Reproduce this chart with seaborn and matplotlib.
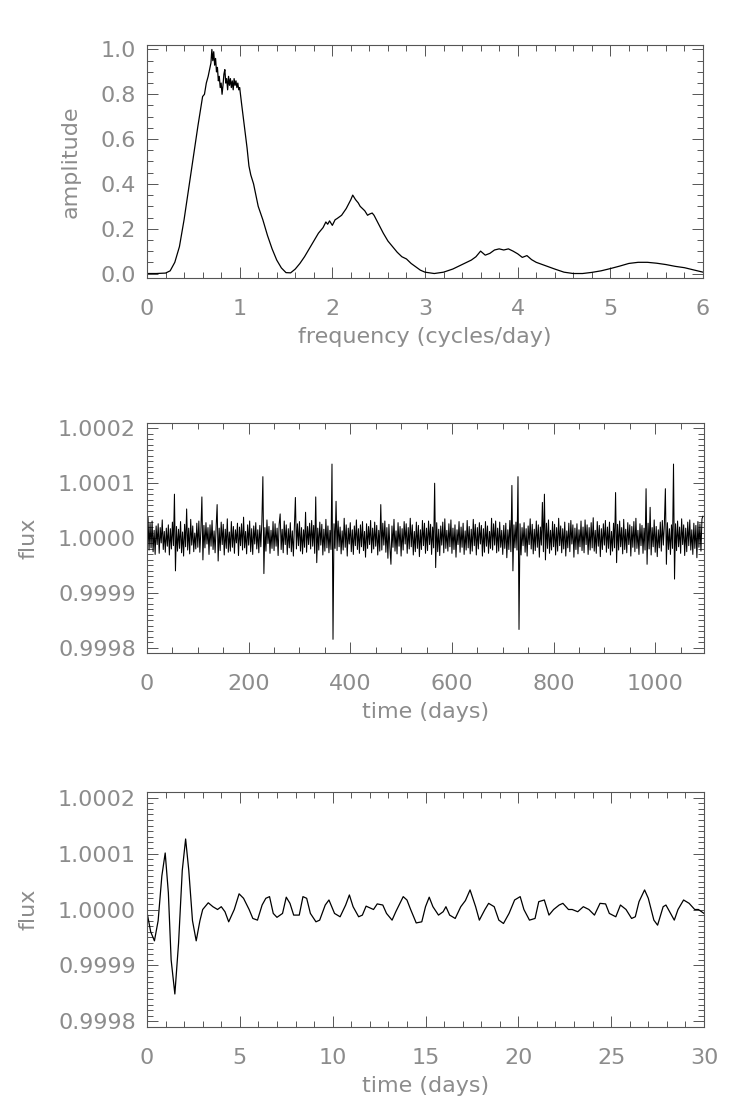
import numpy as np
import pandas as pd
import matplotlib
matplotlib.use("Agg")
import matplotlib.pyplot as plt
import seaborn as sns
from matplotlib.ticker import MultipleLocator, FormatStrFormatter

# --- amplitude spectrum (top panel) ---
freq = [0.0, 0.1, 0.2, 0.25, 0.3, 0.35, 0.4, 0.45, 0.5, 0.55, 0.6, 0.62, 0.64,
        0.66, 0.68, 0.69, 0.7, 0.71, 0.72, 0.73, 0.74, 0.75, 0.76, 0.77, 0.78,
        0.79, 0.8, 0.81, 0.82, 0.83, 0.84, 0.85, 0.86, 0.87, 0.88, 0.89, 0.9,
        0.91, 0.92, 0.93, 0.94, 0.95, 0.96, 0.97, 0.98, 0.99, 1.0, 1.02, 1.05,
        1.08, 1.1, 1.12, 1.15, 1.2, 1.25, 1.3, 1.35, 1.4, 1.45, 1.5, 1.55, 1.6,
        1.65, 1.7, 1.75, 1.8, 1.85, 1.9, 1.93, 1.95, 1.97, 2.0, 2.03, 2.05, 2.1,
        2.15, 2.2, 2.22, 2.25, 2.28, 2.3, 2.35, 2.38, 2.4, 2.43, 2.45, 2.5, 2.55,
        2.6, 2.65, 2.7, 2.75, 2.8, 2.85, 2.9, 2.95, 3.0, 3.1, 3.2, 3.3, 3.4,
        3.5, 3.55, 3.6, 3.65, 3.7, 3.75, 3.8, 3.85, 3.9, 3.95, 4.0, 4.05, 4.1,
        4.15, 4.2, 4.3, 4.4, 4.5, 4.6, 4.7, 4.8, 4.9, 5.0, 5.1, 5.2, 5.3, 5.4,
        5.5, 5.6, 5.7, 5.8, 5.9, 6.0]
amp = [0.0, 0.0, 0.002, 0.012, 0.05, 0.12, 0.24, 0.38, 0.52, 0.66, 0.79, 0.8,
       0.85, 0.88, 0.92, 0.94, 1.0, 0.95, 0.99, 0.93, 0.96, 0.9, 0.92, 0.86,
       0.88, 0.83, 0.85, 0.8, 0.84, 0.89, 0.91, 0.85, 0.87, 0.82, 0.88, 0.84,
       0.87, 0.83, 0.86, 0.82, 0.87, 0.84, 0.86, 0.83, 0.85, 0.82, 0.83, 0.76,
       0.66, 0.56, 0.48, 0.44, 0.4, 0.3, 0.24, 0.17, 0.11, 0.06, 0.025, 0.004,
       0.003, 0.02, 0.045, 0.075, 0.11, 0.145, 0.18, 0.205, 0.23, 0.22, 0.235,
       0.215, 0.24, 0.245, 0.26, 0.29, 0.33, 0.35, 0.33, 0.315, 0.3, 0.28,
       0.26, 0.265, 0.27, 0.26, 0.22, 0.18, 0.145, 0.12, 0.095, 0.075, 0.065,
       0.045, 0.03, 0.015, 0.006, 0.0, 0.006, 0.02, 0.04, 0.06, 0.075, 0.1,
       0.082, 0.09, 0.105, 0.11, 0.105, 0.11, 0.1, 0.088, 0.072, 0.08, 0.062,
       0.05, 0.035, 0.02, 0.006, 0.0, 0.0, 0.005, 0.012, 0.022, 0.033, 0.045,
       0.05, 0.05, 0.046, 0.04, 0.032, 0.026, 0.016, 0.006]

# --- three-year light curve (middle panel), deviations in ppm, one value per 2 days ---
step_days = 2
flux_ppm = [
    -55, 38, -22, 27, -18, 31, -25, 14, -30, 22,
    -12, 26, -28, 19, -9, 33, -21, 12, -26, 18,
    -15, 24, -31, 17, -20, 29, -14, 80, -60, 21,
    -24, 16, -19, 30, -27, 11, -33, 25, -16, 53,
    -22, 18, -29, 34, -13, 22, -25, 9, -20, 27,
    -17, 31, -26, 14, 75, -40, 23, -18, 28, -11,
    19, -30, 24, -15, 32, -21, 13, -27, 20, 61,
    -42, 18, -23, 29, -12, 25, -31, 16, -19, 35,
    -26, 11, -24, 30, -17, 21, -28, 15, -9, 27,
    -32, 20, -14, 26, -22, 38, -18, 12, -29, 24,
    -13, 31, -25, 17, -30, 22, -11, 28, -20, 15,
    -27, 23, -16, 29, 112, -65, 19, -24, 33, -10,
    21, -28, 14, -19, 30, -23, 26, -15, 18, -32,
    25, 44, -21, 16, -27, 31, -12, 24, -30, 17,
    -18, 28, -25, 13, -33, 22, 74, -20, 26, -14,
    30, -24, 19, -29, 15, -17, 47, -26, 21, -12,
    27, -20, 32, -15, 23, -28, 75, -45, 18, -22,
    29, -13, 25, -31, 16, -24, 34, -18, 22, -27,
    14, -21, 135, -185, 26, -19, 67, -23, 31, -16,
    20, -29, 13, -22, 36, -17, 24, -33, 18, -11,
    28, -25, 15, -30, 22, -14, 33, -21, 17, -28,
    24, -16, 30, -23, 12, -35, 26, -19, 21, -12,
    32, -27, 18, -20, 29, -15, 23, -31, 14, -24,
    61, -22, 27, -13, 31, -26, 19, -37, 25, -18,
    -48, 22, -17, 34, -24, 13, -29, 28, -15, 21,
    -33, 17, -22, 30, -11, 26, -28, 19, -20, 36,
    -16, 24, -31, 12, -25, 29, -19, 23, -34, 15,
    -21, 32, -14, 27, -28, 18, -23, 31, -12, 25,
    -30, 20, -18, 100, -54, 28, -25, 16, -32, 22,
    -13, 29, -27, 35, -19, 14, -24, 26, -16, 33,
    -28, 18, -21, 24, -35, 15, -12, 30, -26, 20,
    -17, 27, -30, 13, -22, 32, -18, 21, -29, 16,
    -24, 34, -14, 25, -31, 19, -20, 28, -11, 23,
    -33, 17, -26, 30, -15, 22, -28, 12, -19, 36,
    -22, 26, -13, 31, -27, 18, -24, 29, -17, 14,
    -30, 23, -19, 27, -36, 15, -21, 32, -25, 96,
    -60, 24, -18, 29, -22, 112, -167, 26, -31, 19,
    -14, 28, -26, 17, -33, 22, -12, 35, -20, 25,
    -29, 16, -23, 31, -17, 24, -35, 20, -13, 65,
    -25, 80, -40, 27, -19, 33, -28, 14, -22, 30,
    -16, 25, -31, 19, -24, 36, -14, 22, -27, 17,
    -20, 29, -33, 13, -18, 27, -25, 32, -11, 24,
    -35, 18, -21, 26, -29, 15, -16, 31, -23, 20,
    -27, 33, -12, 24, -30, 19, -22, 28, -18, 37,
    -24, 14, -28, 30, -15, 23, -34, 17, -21, 26,
    -13, 32, -26, 20, -19, 29, -31, 12, -24, 27,
    -18, 83, -45, 25, -22, 31, -16, 19, -29, 34,
    -21, 16, -27, 28, -12, 24, -33, 21, -17, 30,
    -25, 36, -19, 14, -30, 26, -14, 23, -28, 18,
    -22, 90, -48, 27, -20, 56, -31, 19, -16, 33,
    -26, 21, -34, 15, -18, 29, -24, 32, -13, 25,
    90, -48, 28, -21, 17, -30, 24, -19, 135, -75,
    26, -23, 31, -16, 20, -28, 35, -12, 24, -32,
    18, -25, 29, -14, 33, -22, 15, -30, 27, -19,
    23, -36, 30, -17, 26, -24, 35, 40,
]

# --- first 30 days (bottom panel) ---
t30 = [0.0, 0.2, 0.4, 0.6, 0.8, 0.98, 1.15, 1.3, 1.5, 1.7, 1.9, 2.08, 2.25,
       2.45, 2.65, 2.85, 3.0, 3.3, 3.55, 3.8, 4.0, 4.2, 4.4, 4.7, 4.96, 5.2,
       5.5, 5.7, 5.95, 6.2, 6.4, 6.6, 6.8, 7.0, 7.3, 7.5, 7.7, 7.9, 8.2, 8.4,
       8.6, 8.8, 9.1, 9.3, 9.6, 9.8, 10.1, 10.4, 10.7, 10.9, 11.1, 11.4, 11.6,
       11.8, 12.2, 12.4, 12.7, 12.9, 13.2, 13.4, 13.8, 14.0, 14.2, 14.5, 14.8,
       15.0, 15.2, 15.4, 15.7, 15.95, 16.1, 16.3, 16.6, 16.9, 17.15, 17.4,
       17.7, 17.9, 18.2, 18.4, 18.7, 18.95, 19.2, 19.5, 19.8, 20.1, 20.3,
       20.6, 20.9, 21.1, 21.4, 21.65, 21.9, 22.2, 22.4, 22.7, 22.9, 23.2,
       23.5, 23.8, 24.1, 24.4, 24.7, 24.9, 25.25, 25.5, 25.8, 26.1, 26.3,
       26.5, 26.8, 27.0, 27.3, 27.5, 27.8, 27.95, 28.2, 28.4, 28.6, 28.9,
       29.2, 29.5, 29.7, 30.0]
f30_ppm = [-5, -40, -56, -20, 60, 101, 30, -90, -151, -60, 70, 126, 70, -20,
           -56, -20, 0, 12, 5, 0, 5, -4, -22, 0, 28, 20, 0, -16, -19, 8, 20,
           23, -7, -14, -7, 22, 11, -10, -10, 23, 20, -7, -22, -19, 8, 17, -7,
           -13, 8, 26, 5, -13, -10, 6, 0, 10, 8, -7, -19, -4, 23, 17, 0, -24,
           -22, 5, 22, 5, -10, -4, 5, -10, -16, 5, 16, 35, 5, -19, 0, 11, 5,
           -19, -25, -7, 17, 23, 0, -19, -16, 14, 17, -10, 0, 8, 11, 0, 0, -4,
           5, 0, -10, 11, 10, -7, -13, 8, 0, -16, -13, 14, 35, 20, -19, -28, 5,
           8, -7, -19, 0, 17, 11, 0, 0, -7]

lc_long = pd.DataFrame({"time": np.arange(len(flux_ppm)) * step_days,
                        "flux": 1.0 + np.array(flux_ppm) * 1e-6})
lc_short = pd.DataFrame({"time": t30, "flux": 1.0 + np.array(f30_ppm) * 1e-6})
spec = pd.DataFrame({"freq": freq, "amp": amp})

sns.set_theme(style="ticks")
plt.rcParams["font.family"] = ["DejaVu Sans"]
TXT = "#8c8c8c"
FRAME = "#555555"

fig = plt.figure(figsize=(7.47, 11.2), dpi=100)
W, H = 747, 1120


def rect(left, right, top, bottom):
    return [left / W, 1 - bottom / H, (right - left) / W, (bottom - top) / H]


def style(ax, xmaj, xmin, ymaj, ymin, fmt):
    ax.xaxis.set_major_locator(MultipleLocator(xmaj))
    ax.xaxis.set_minor_locator(MultipleLocator(xmin))
    ax.yaxis.set_major_locator(MultipleLocator(ymaj))
    ax.yaxis.set_minor_locator(MultipleLocator(ymin))
    ax.yaxis.set_major_formatter(FormatStrFormatter(fmt))
    ax.xaxis.set_major_formatter(FormatStrFormatter("%d"))
    ax.tick_params(which="both", direction="in", top=True, right=True,
                   color=FRAME, width=0.7, labelcolor=TXT, labelsize=16)
    ax.tick_params(which="major", length=8)
    ax.tick_params(which="minor", length=4)
    ax.tick_params(axis="x", which="major", pad=15)
    ax.tick_params(axis="y", which="major", pad=8)
    for s in ax.spines.values():
        s.set_visible(True)
        s.set_color(FRAME)
        s.set_linewidth(0.8)
    ax.xaxis.label.set_color(TXT)
    ax.yaxis.label.set_color(TXT)
    ax.xaxis.label.set_size(16)
    ax.yaxis.label.set_size(16)
    ax.xaxis.labelpad = 6


ax1 = fig.add_axes(rect(147, 703, 45, 278))
sns.lineplot(data=spec, x="freq", y="amp", ax=ax1, color="black", linewidth=0.9)
ax1.set_xlim(0, 6)
ax1.set_ylim(-0.02, 1.02)
ax1.set_xlabel("frequency (cycles/day)")
ax1.set_ylabel("amplitude")
style(ax1, 1, 0.2, 0.2, 0.05, "%.1f")
ax1.yaxis.set_label_coords(-0.12, 0.5)

ax2 = fig.add_axes(rect(147, 704, 423, 653))
sns.lineplot(data=lc_long, x="time", y="flux", ax=ax2, color="black",
             linewidth=0.75)
ax2.set_xlim(0, 1096)
ax2.set_ylim(0.99979, 1.00021)
ax2.set_xlabel("time (days)")
ax2.set_ylabel("flux")
style(ax2, 200, 50, 0.0001, 0.00001, "%.4f")
ax2.yaxis.set_label_coords(-0.195, 0.5)

ax3 = fig.add_axes(rect(147, 704, 792, 1027))
sns.lineplot(data=lc_short, x="time", y="flux", ax=ax3, color="black",
             linewidth=0.9)
ax3.set_xlim(0, 30)
ax3.set_ylim(0.99979, 1.00021)
ax3.set_xlabel("time (days)")
ax3.set_ylabel("flux")
style(ax3, 5, 1, 0.0001, 0.00001, "%.4f")
ax3.yaxis.set_label_coords(-0.195, 0.5)

fig.savefig("out.png", dpi=100, facecolor="white")
